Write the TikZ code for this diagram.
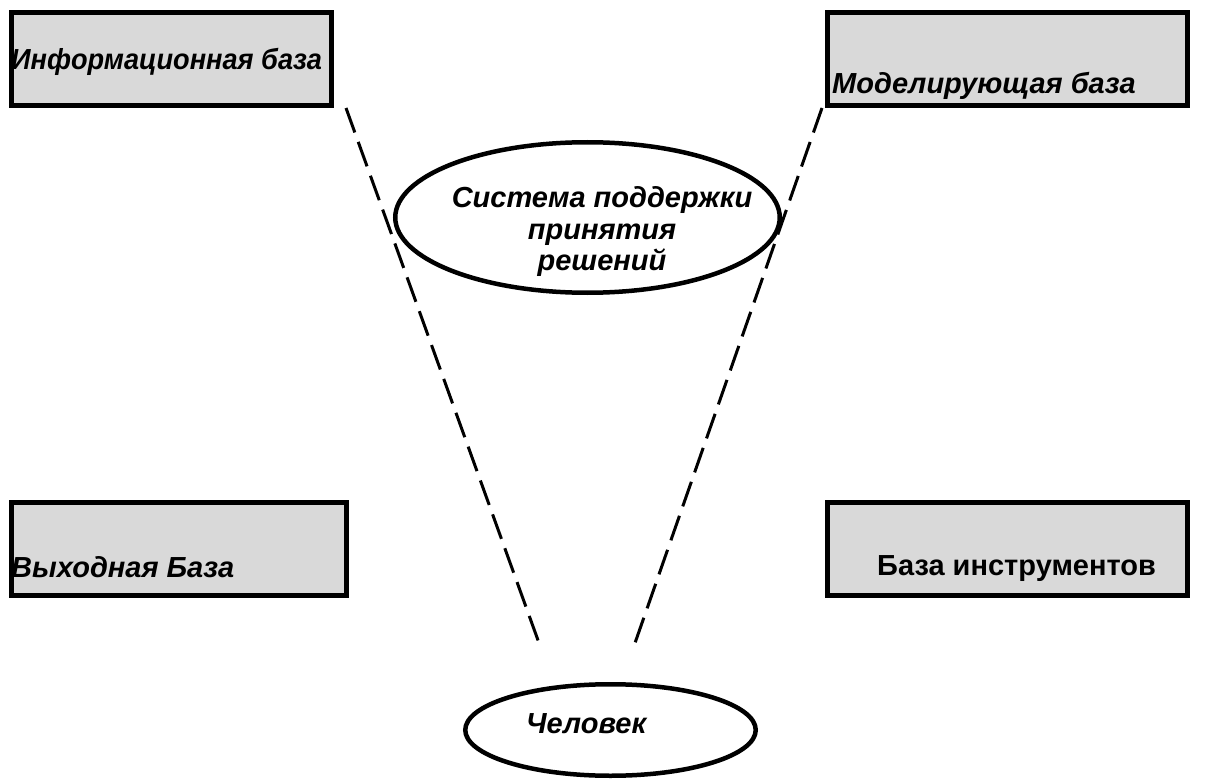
\documentclass[tikz,border=0pt]{standalone}
\usepackage{fontspec}
\setmainfont{Liberation Sans}
\usetikzlibrary{shapes.geometric,calc}
\definecolor{boxgray}{HTML}{D9D9D9}
\begin{document}
\begin{tikzpicture}[x=1pt,y=-1pt,
  base/.style={font=\fontsize{29}{31.5}\selectfont\bfseries,inner sep=0pt},
  box/.style={draw=black,line width=5pt,fill=boxgray,inner sep=0pt,minimum height=93pt},
  lbl/.style={font=\fontsize{29}{31.5}\selectfont\bfseries\itshape,inner sep=0pt},
  oval/.style={draw=black,line width=4.5pt,ellipse,inner sep=0pt,fill=white},
  dashline/.style={line width=3pt,dash pattern=on 26pt off 10pt}]
\useasboundingbox (0,0) rectangle (1211,781);
% boxes
\node[box,minimum width=320pt] (b1) at (171.5,59) {};
\node[box,minimum width=360pt] (b2) at (1007.5,59) {};
\node[box,minimum width=335pt] (b3) at (179,549) {};
\node[box,minimum width=360pt] (b4) at (1007.5,549) {};
% dashed connectors
\coordinate (l1) at (346,108);
\coordinate (l2) at (539,643);
\coordinate (r1) at (822,108);
\coordinate (r2) at (635,643);
\draw[dashline] (l1) -- (l2);
\draw[dashline] (r1) -- (r2);
% ellipses
\node[oval,fill=none,minimum width=384.5pt,minimum height=150.5pt] (dss) at (587.5,217.5) {};
\node[oval,minimum width=290.5pt,minimum height=91.5pt] (man) at (610.5,730) {};
% labels
\node[lbl,anchor=base west] (t1) at (11,70) {\scalebox{0.936}[1]{Информационная база}};
\node[lbl,anchor=base west] (t2) at (832,94) {Моделирующая база};
\node[lbl,anchor=base west] (t3) at (11,577) {Выходная База};
\node[base,anchor=base west] (t4) at (877,575) {База инструментов};
\node[lbl,align=center,anchor=center] (t5) at (602,232) {Система поддержки\\принятия\\решений};
\node[lbl,anchor=base west] (t6) at (526,733) {Человек};
\end{tikzpicture}
\end{document}
